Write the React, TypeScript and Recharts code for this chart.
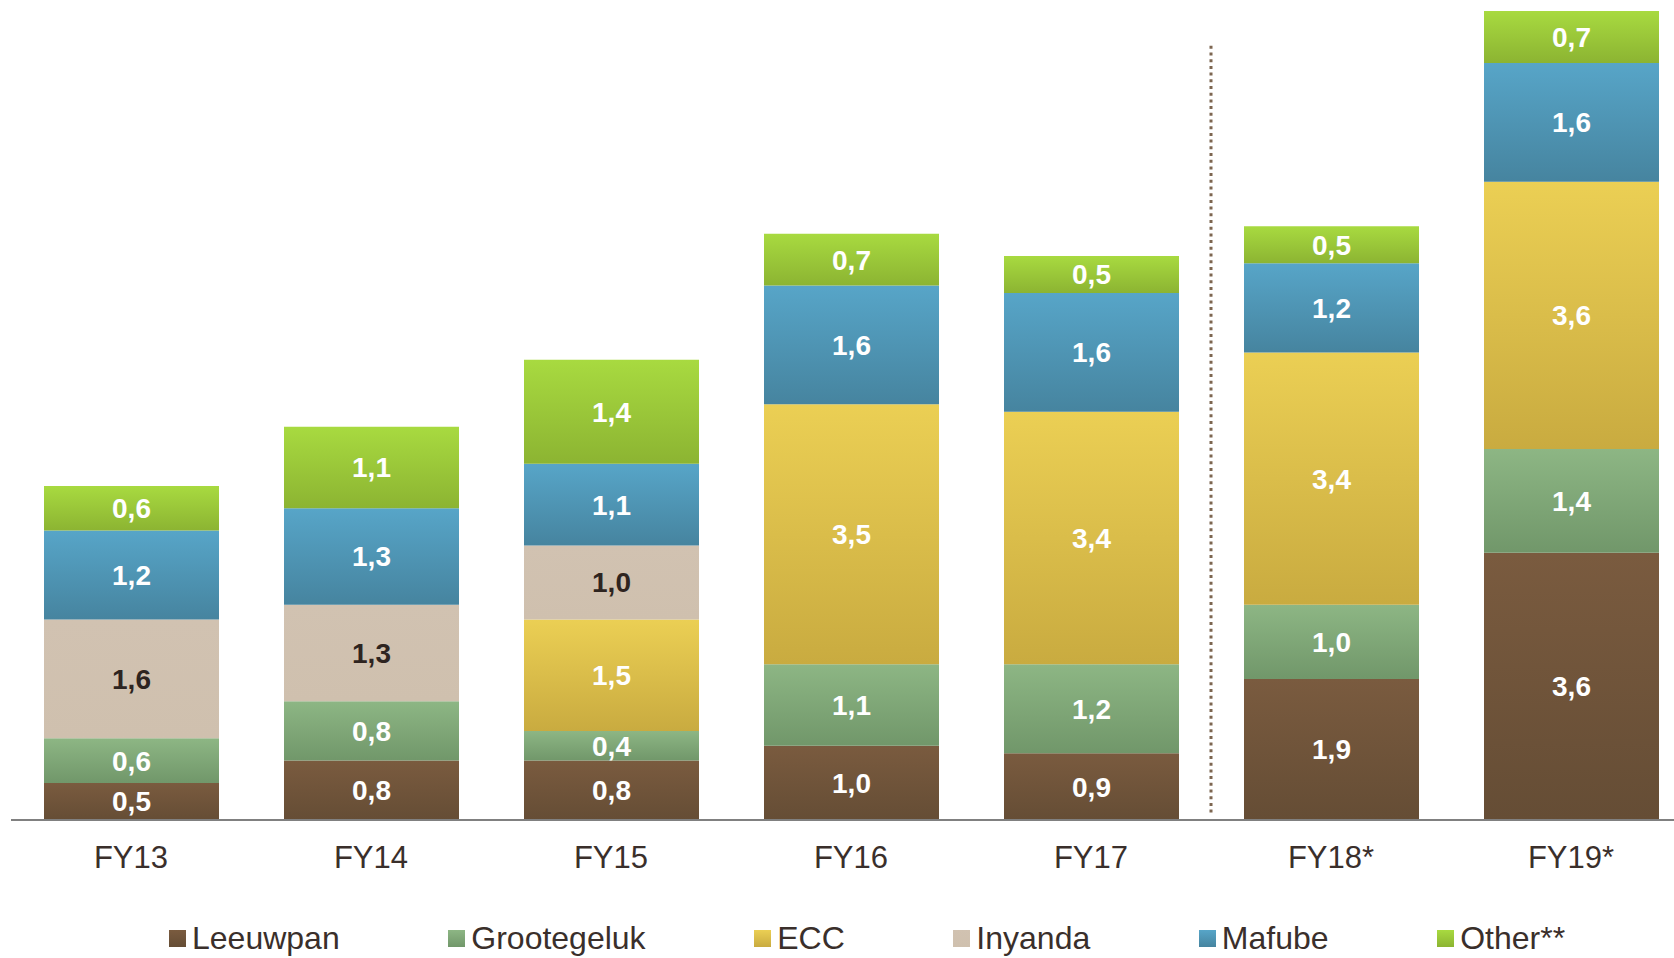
import React from 'react';
import { BarChart, Bar, XAxis, YAxis, LabelList, ReferenceLine } from 'recharts';

const categories = ['FY13', 'FY14', 'FY15', 'FY16', 'FY17', 'FY18*', 'FY19*'];
const leeuwpan = [0.5, 0.8, 0.8, 1.0, 0.9, 1.9, 3.6];
const grootegeluk = [0.6, 0.8, 0.4, 1.1, 1.2, 1.0, 1.4];
const ecc = [null, null, 1.5, 3.5, 3.4, 3.4, 3.6];
const inyanda = [1.6, 1.3, 1.0, null, null, null, null];
const mafube = [1.2, 1.3, 1.1, 1.6, 1.6, 1.2, 1.6];
const other = [0.6, 1.1, 1.4, 0.7, 0.5, 0.5, 0.7];

const data = categories.map((name, i) => ({
  name,
  Leeuwpan: leeuwpan[i],
  Grootegeluk: grootegeluk[i],
  ECC: ecc[i],
  Inyanda: inyanda[i],
  Mafube: mafube[i],
  Other: other[i],
}));

const series = [
  { key: 'Leeuwpan', label: 'Leeuwpan', top: '#7a5b3f', bottom: '#654d35', text: '#ffffff' },
  { key: 'Grootegeluk', label: 'Grootegeluk', top: '#8db684', bottom: '#71976a', text: '#ffffff' },
  { key: 'ECC', label: 'ECC', top: '#ebcf54', bottom: '#c9ab40', text: '#ffffff' },
  { key: 'Inyanda', label: 'Inyanda', top: '#d1c2b1', bottom: '#cfc0ae', text: '#2e2420' },
  { key: 'Mafube', label: 'Mafube', top: '#57a5c8', bottom: '#46849f', text: '#ffffff' },
  { key: 'Other', label: 'Other**', top: '#a8da40', bottom: '#8cb432', text: '#ffffff' },
];

const FONT = '"Liberation Sans", Arial, sans-serif';

const fmt = (v: any) => (v == null ? '' : Number(v).toFixed(1).replace('.', ','));

const ChartLegend = () => (
  <div
    style={{
      position: 'absolute',
      left: 169,
      top: 920,
      display: 'flex',
      alignItems: 'center',
      fontFamily: FONT,
    }}
  >
    {series.map((s) => (
      <div key={s.key} style={{ display: 'flex', alignItems: 'center', marginRight: 108.6 }}>
        <span
          style={{
            width: 17,
            height: 17,
            display: 'inline-block',
            background: `linear-gradient(${s.top}, ${s.bottom})`,
            marginRight: 6,
          }}
        />
        <span style={{ fontSize: 32, color: '#3a2f2b', lineHeight: '36px', whiteSpace: 'nowrap' }}>
          {s.label}
        </span>
      </div>
    ))}
  </div>
);

export default function App() {
  return (
    <div
      style={{
        position: 'absolute',
        left: 0,
        top: 0,
        width: 1674,
        height: 958,
        overflow: 'hidden',
        background: '#ffffff',
      }}
    >
      <BarChart
        width={1700}
        height={958}
        data={data}
        margin={{ top: 11, right: 9, left: 11, bottom: 108 }}
      >
        <defs>
          {series.map((s) => (
            <linearGradient key={s.key} id={`grad-${s.key}`} x1="0" y1="0" x2="0" y2="1">
              <stop offset="0%" stopColor={s.top} />
              <stop offset="100%" stopColor={s.bottom} />
            </linearGradient>
          ))}
        </defs>
        <XAxis
          dataKey="name"
          height={30}
          axisLine={{ stroke: '#808080', strokeWidth: 2 }}
          tickLine={false}
          tickSize={0}
          tickMargin={26}
          tick={{ fill: '#3a2f2b', fontSize: 31, fontFamily: FONT }}
          interval={0}
        />
        <YAxis hide domain={[0, 10.9]} />
        <ReferenceLine
          segment={[
            { x: 'FY18*', y: 0.1 },
            { x: 'FY18*', y: 10.45 },
          ]}
          position="start"
          stroke="#7d6650"
          strokeWidth={3}
          strokeDasharray="3 3.7"
        />
        {series.map((s) => (
          <Bar
            key={s.key}
            dataKey={s.key}
            name={s.label}
            stackId="a"
            barSize={175}
            fill={`url(#grad-${s.key})`}
            isAnimationActive={false}
          >
            <LabelList
              dataKey={s.key}
              position="center"
              formatter={fmt}
              fill={s.text}
              style={{ fontSize: 28, fontWeight: 'bold', fontFamily: FONT }}
            />
          </Bar>
        ))}
      </BarChart>
      <ChartLegend />
    </div>
  );
}
